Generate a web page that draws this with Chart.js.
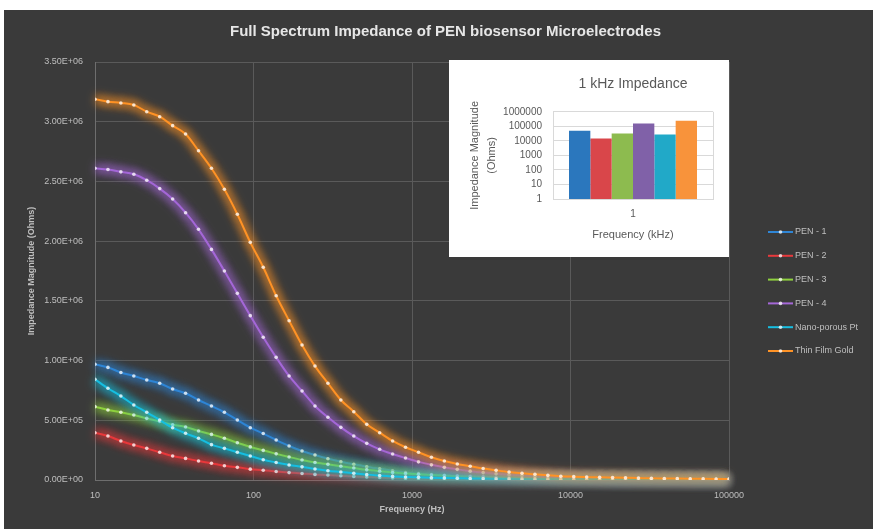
<!DOCTYPE html>
<html>
<head>
<meta charset="utf-8">
<script src="https://cdn.jsdelivr.net/npm/chart.js@4.4.1/dist/chart.umd.min.js"></script>
<style>
  body { margin: 0; background: #fff; width: 873px; height: 529px; overflow: hidden; }
  #main { position: absolute; left: 4px; top: 10px; background: #3a3a3a; }
  #inset { position: absolute; left: 449px; top: 60px; background: #fff; }
</style>
</head>
<body>
<canvas id="main" width="869" height="519"></canvas>
<canvas id="inset" width="280" height="197"></canvas>
<script>
// Frequencies (Hz) of the sweep
const freqs = [10, 12.07, 14.56, 17.58, 21.21, 25.6, 30.89, 37.28, 44.99, 54.29,
  65.52, 79.07, 95.43, 115.2, 139.0, 167.7, 202.4, 244.3, 294.8, 355.7,
  429.3, 518.1, 625.2, 754.5, 910.6, 1099, 1326, 1600, 1931, 2330,
  2812, 3394, 4096, 4943, 5965, 7199, 8687, 10484, 12652, 15269,
  18427, 22238, 26837, 32388, 39087, 47171, 56928, 68702, 82911, 100000];

// Impedance magnitude (Ohms) per electrode
const pen1 = [969000, 943000, 900000, 871000, 837000, 810000, 762000, 726000, 670000, 620000,
  567000, 502000, 438000, 389000, 335000, 285000, 243000, 209000, 178000, 153000,
  131000, 111000, 94000, 78000, 62000, 53000, 45000, 39000, 34000, 30000,
  26000, 22000, 19000, 17000, 15000, 13000, 11500, 10000, 9000, 8000,
  7200, 6500, 6000, 5500, 5000, 4600, 4300, 4000, 3700, 3500];
const pen2 = [396000, 368000, 327000, 293000, 265000, 232000, 201000, 181000, 159000, 140000,
  119000, 106000, 91000, 82000, 71000, 62000, 55000, 47000, 42000, 36000,
  30000, 25000, 21000, 17000, 14000, 12000, 10500, 9500, 8500, 7600,
  6800, 6100, 5500, 5000, 4500, 4100, 3800, 3500, 3200, 3000,
  2800, 2600, 2400, 2300, 2200, 2100, 2000, 1900, 1800, 1700];
const pen3 = [614000, 586000, 567000, 544000, 516000, 491000, 462000, 444000, 410000, 382000,
  349000, 312000, 277000, 248000, 219000, 192000, 167000, 147000, 131000, 115000,
  100000, 85000, 73000, 62000, 55000, 48000, 42000, 37000, 33000, 29000,
  26000, 23000, 20000, 18000, 16000, 14000, 12500, 11000, 10000, 9000,
  8200, 7500, 6900, 6400, 5900, 5500, 5100, 4800, 4500, 4200];
const pen4 = [2610000, 2600000, 2580000, 2560000, 2510000, 2440000, 2353000, 2238000, 2099000, 1931000,
  1750000, 1563000, 1376000, 1195000, 1027000, 871000, 745000, 620000, 525000, 441000,
  368000, 307000, 257000, 218000, 184000, 152000, 127000, 106000, 89000, 74000,
  62000, 52000, 44000, 37000, 31000, 26000, 22000, 19000, 16500, 14500,
  12800, 11300, 10000, 9000, 8100, 7300, 6600, 6000, 5500, 5000];
const nanoPt = [843000, 768000, 703000, 628000, 567000, 502000, 438000, 391000, 349000, 296000,
  265000, 232000, 201000, 170000, 147000, 126000, 110000, 92000, 78000, 67000,
  56000, 45000, 37000, 30000, 25000, 22000, 19000, 17000, 15000, 13000,
  12000, 11000, 10000, 9000, 8200, 7500, 6900, 6300, 5800, 5300,
  4900, 4500, 4200, 3900, 3600, 3400, 3200, 3000, 2800, 2600];
const gold = [3188000, 3168000, 3157000, 3140000, 3084000, 3042000, 2967000, 2897000, 2757000, 2610000,
  2434000, 2225000, 1990000, 1781000, 1543000, 1334000, 1130000, 954000, 810000, 670000,
  572000, 466000, 396000, 327000, 274000, 232000, 190000, 159000, 134000, 115000,
  96000, 81000, 67000, 56000, 48000, 39000, 32000, 28000, 25000, 22000,
  20000, 18000, 16000, 14000, 13000, 12000, 11000, 10000, 9000, 8000];

const seriesNames = ['PEN - 1', 'PEN - 2', 'PEN - 3', 'PEN - 4', 'Nano-porous Pt', 'Thin Film Gold'];
const seriesData = [pen1, pen2, pen3, pen4, nanoPt, gold];
const lineColors = ['#2f86d6', '#e8393c', '#8fd13f', '#a568d8', '#17bfe2', '#ff9326'];
const drawOrder = [5, 4, 3, 2, 1, 0];

const xTicks = [10, 100, 1000, 10000, 100000];
const yMax = 3500000;
const yStep = 500000;

// Inset: 1 kHz impedance bars
const insetCategory = ['1'];
const insetValues = [49000, 14500, 32000, 158000, 27000, 240000];
const insetColors = ['#2b77bd', '#d9464a', '#8dbb4f', '#8061a8', '#21a9c8', '#f8933b'];
const insetTicks = [1, 10, 100, 1000, 10000, 100000, 1000000];

const font = 'Liberation Sans';
const sci = v => {
  const [m, e] = v.toExponential(2).split('e');
  return m + 'E' + e[0] + e.slice(1).padStart(2, '0');
};

// soft glow under each line: a wide blurred copy of the line, then a shadow on the real one
const glow = {
  id: 'glow',
  beforeDatasetDraw(chart, args) {
    const ctx = chart.ctx;
    const line = args.meta.dataset;
    const o = line.options;
    const bw = o.borderWidth;
    ctx.save();
    ctx.filter = 'blur(4px)';
    ctx.globalAlpha = 0.5;
    o.borderWidth = 10;
    line.draw(ctx, chart.chartArea);
    o.borderWidth = bw;
    ctx.restore();
    ctx.save();
    ctx.shadowColor = o.borderColor;
    ctx.shadowBlur = 10;
  },
  afterDatasetDraw(chart) {
    chart.ctx.restore();
  }
};

// legend with line + marker, like the spreadsheet one
const lineLegend = {
  id: 'lineLegend',
  afterDraw(chart) {
    const ctx = chart.ctx, a = chart.chartArea;
    const x = a.right + 39, y0 = a.top + 170;
    chart.data.datasets.forEach((ds, i) => {
      const y = y0 + i * 23.8;
      ctx.save();
      ctx.strokeStyle = ds.borderColor;
      ctx.lineWidth = 2;
      ctx.beginPath(); ctx.moveTo(x, y); ctx.lineTo(x + 25, y); ctx.stroke();
      ctx.fillStyle = 'rgba(255,255,255,0.75)';
      ctx.beginPath(); ctx.arc(x + 12.5, y, 1.8, 0, Math.PI * 2); ctx.fill();
      ctx.fillStyle = '#bfbfbf';
      ctx.font = '9px ' + font;
      ctx.textBaseline = 'middle';
      ctx.fillText(ds.label, x + 27, y);
      ctx.restore();
    });
  }
};

new Chart(document.getElementById('main'), {
  type: 'line',
  data: {
    datasets: seriesNames.map((name, s) => ({
      label: name,
      data: freqs.map((f, i) => ({ x: f, y: seriesData[s][i] })),
      borderColor: lineColors[s],
      borderWidth: 2,
      pointRadius: 1.8,
      pointBorderWidth: 0,
      pointBackgroundColor: 'rgba(255,255,255,0.75)',
      cubicInterpolationMode: 'monotone',
      order: drawOrder[s]
    }))
  },
  options: {
    responsive: false,
    animation: false,
    layout: { padding: { left: 14, right: 0, top: 8, bottom: 0 } },
    plugins: {
      legend: { display: false },
      tooltip: { enabled: false },
      title: {
        display: true,
        text: 'Full Spectrum Impedance of PEN biosensor Microelectrodes',
        color: '#e6e6e6',
        font: { family: font, size: 15, weight: 'bold' },
        padding: { top: 5, bottom: 21 }
      }
    },
    scales: {
      x: {
        type: 'logarithmic',
        min: 10,
        max: 100000,
        afterBuildTicks: axis => { axis.ticks = xTicks.map(v => ({ value: v })); },
        afterFit: axis => { axis.height = 49; },
        ticks: {
          color: '#bfbfbf',
          font: { family: font, size: 9 },
          padding: 10,
          maxRotation: 0,
          callback: v => String(v)
        },
        grid: { color: '#5a5a5a', drawTicks: false },
        border: { color: '#6e6e6e' },
        title: {
          display: true,
          text: 'Frequency (Hz)',
          color: '#bfbfbf',
          font: { family: font, size: 9, weight: 'bold' },
          padding: { top: 0, bottom: 14 }
        }
      },
      y: {
        min: 0,
        max: yMax,
        afterFit: axis => { axis.width = 77; },
        ticks: {
          stepSize: yStep,
          color: '#bfbfbf',
          font: { family: font, size: 9 },
          padding: 12,
          callback: v => sci(v)
        },
        grid: { color: '#5a5a5a', drawTicks: false },
        border: { color: '#6e6e6e' },
        title: {
          display: true,
          text: 'Impedance Magnitude (Ohms)',
          color: '#bfbfbf',
          font: { family: font, size: 9, weight: 'bold' },
          padding: { top: 8.5, bottom: 0 }
        }
      },
      // empty right-hand strip that holds the legend
      legendSpace: {
        type: 'linear',
        position: 'right',
        afterFit: axis => { axis.width = 144; },
        grid: { display: false },
        border: { display: false },
        ticks: { display: false }
      }
    }
  },
  plugins: [glow, lineLegend]
});

new Chart(document.getElementById('inset'), {
  type: 'bar',
  data: {
    labels: insetCategory,
    datasets: seriesNames.map((name, s) => ({
      label: name,
      data: [insetValues[s]],
      backgroundColor: insetColors[s],
      categoryPercentage: 0.8,
      barPercentage: 1.0
    }))
  },
  options: {
    responsive: false,
    animation: false,
    layout: { padding: { left: 0, right: 16, top: 10, bottom: 0 } },
    plugins: {
      legend: { display: false },
      tooltip: { enabled: false },
      title: {
        display: true,
        fullSize: false,
        text: '1 kHz Impedance',
        color: '#595959',
        font: { family: font, size: 14, weight: 'normal' },
        padding: { top: 6, bottom: 19 }
      }
    },
    scales: {
      x: {
        afterFit: axis => { axis.height = 58; },
        ticks: { color: '#595959', font: { family: font, size: 10 }, padding: 9 },
        grid: { color: '#d9d9d9', drawTicks: false },
        border: { color: '#d9d9d9' },
        title: {
          display: true,
          text: 'Frequency (kHz)',
          color: '#595959',
          font: { family: font, size: 11 },
          padding: { top: 0, bottom: 15 }
        }
      },
      y: {
        type: 'logarithmic',
        min: 1,
        max: 1000000,
        afterBuildTicks: axis => { axis.ticks = insetTicks.map(v => ({ value: v })); },
        afterFit: axis => { axis.width = 104; },
        ticks: {
          autoSkip: false,
          color: '#595959',
          font: { family: font, size: 10 },
          padding: 11,
          callback: v => String(v)
        },
        grid: { color: '#d9d9d9', drawTicks: false },
        border: { color: '#d9d9d9' },
        title: {
          display: true,
          text: ['Impedance Magnitude', '(Ohms)'],
          color: '#595959',
          font: { family: font, size: 11, lineHeight: 1.5 },
          padding: { top: 18, bottom: 0 }
        }
      }
    }
  }
});
</script>
</body>
</html>
